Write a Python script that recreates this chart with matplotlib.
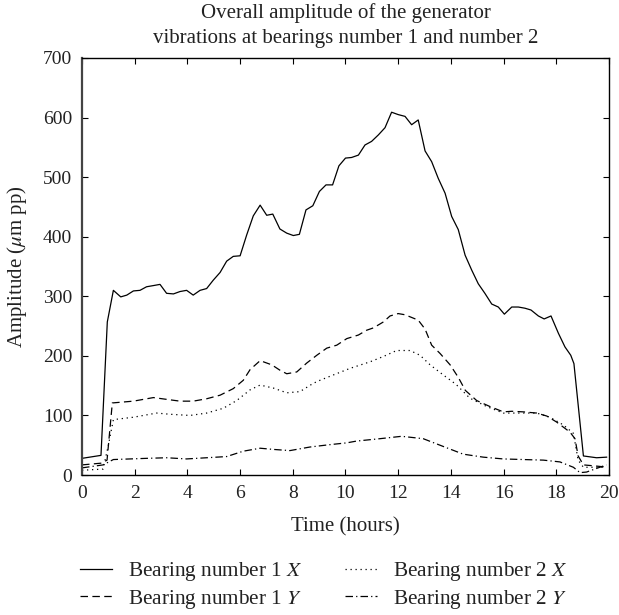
import numpy as np
import matplotlib
matplotlib.use('Agg')
import matplotlib.pyplot as plt

plt.rcParams['font.family'] = ['Liberation Serif', 'DejaVu Serif']
plt.rcParams['mathtext.fontset'] = 'stix'
plt.rcParams['font.size'] = 14

# bearing 1 X (solid)
x_1x = [0, 0.72, 0.96, 1.19, 1.47, 1.70, 1.95, 2.20, 2.45, 2.71, 2.96, 3.21, 3.47, 3.72, 3.97,
        4.22, 4.48, 4.73, 4.98, 5.24, 5.49, 5.74, 6.0, 6.25, 6.50, 6.76, 7.01, 7.24, 7.51, 7.77,
        8.02, 8.25, 8.50, 8.76, 9.01, 9.26, 9.51, 9.75, 10.0, 10.23, 10.49, 10.74, 10.99, 11.25,
        11.50, 11.75, 12.0, 12.26, 12.51, 12.76, 13.02, 13.27, 13.52, 13.78, 14.03, 14.28, 14.54,
        14.79, 15.04, 15.29, 15.55, 15.80, 16.03, 16.31, 16.56, 16.81, 17.04, 17.32, 17.54, 17.80,
        18.08, 18.33, 18.55, 18.67, 19.03, 19.53, 19.91]
y_1x = [28, 33, 257, 310, 299, 302, 309, 310, 316, 318, 320, 305, 304, 308, 310,
        302, 310, 313, 327, 340, 359, 367, 368, 403, 435, 453, 436, 438, 413, 406,
        402, 404, 445, 452, 476, 487, 487, 519, 532, 533, 537, 554, 560, 571,
        583, 609, 605, 602, 588, 596, 544, 526, 498, 473, 434, 412, 369,
        344, 321, 305, 287, 282, 270, 282, 282, 280, 277, 267, 262, 267,
        238, 215, 201, 187, 32, 29, 30]

# bearing 1 Y (dashed)
x_1y = [0, 0.75, 0.95, 1.15, 1.95, 2.71, 3.21, 3.72, 4.22, 4.73, 5.24, 5.74, 6.12, 6.38, 6.76,
        7.2, 7.51, 7.77, 8.15, 8.53, 8.91, 9.29, 9.67, 10.05, 10.49, 10.8, 11.06, 11.44, 11.69,
        12.0, 12.26, 12.76, 13.02, 13.27, 13.59, 13.97, 14.28, 14.55, 14.98, 15.48, 15.99, 16.31,
        16.75, 17.26, 17.64, 18.01, 18.52, 18.71, 18.83, 19.03, 19.53, 19.96]
y_1y = [17, 20, 25, 121, 124, 130, 127, 124, 124, 128, 134, 145, 159, 177, 192,
        185, 176, 170, 173, 188, 201, 213, 218, 229, 235, 243, 247, 257, 267,
        271, 269, 260, 245, 218, 204, 185, 164, 142, 125, 115, 106, 107,
        106, 104, 99, 89, 72, 61, 32, 17, 15, 13]

# bearing 2 X (dotted)
x_2x = [0, 0.8, 1.0, 1.19, 1.95, 2.83, 3.34, 4.1, 4.73, 5.36, 5.87, 6.38, 6.76, 7.26, 7.77,
        8.27, 8.78, 9.03, 9.54, 10.17, 10.93, 11.44, 11.94, 12.45, 12.83, 13.21, 13.71, 14.2,
        14.72, 15.36, 15.99, 16.75, 17.26, 17.76, 18.27, 18.65, 18.83, 19.03, 19.9]
y_2x = [8, 10, 50, 93, 97, 104, 102, 100, 104, 112, 125, 143, 151, 146, 138,
        140, 154, 159, 168, 179, 190, 199, 209, 209, 201, 185, 168, 152,
        129, 115, 104, 104, 104, 97, 84, 70, 25, 13, 13]

# bearing 2 Y (dash-dot)
x_2y = [0, 0.8, 1.19, 2.45, 3.21, 3.97, 4.73, 5.49, 6.12, 6.76, 7.26, 7.89, 8.65, 9.41, 10.05,
        10.42, 11.31, 12.13, 12.95, 13.59, 14.47, 15.23, 15.99, 16.75, 17.51, 18.14, 18.65,
        18.9, 19.15, 19.9]
y_2y = [12, 17, 26, 28, 29, 27, 29, 31, 40, 45, 43, 41, 47, 51, 54,
        57, 61, 65, 61, 50, 35, 30, 27, 26, 25, 22, 13,
        4, 5, 17]

fig = plt.figure(figsize=(6.19, 6.15), dpi=100)
ax = fig.add_axes([0.1325, 0.2276, 0.8513, 0.6781])

lw = 0.9
ax.plot(x_1x, y_1x, color='k', lw=lw, ls='-', label='Bearing number 1 $X$')
ax.plot(x_1y, y_1y, color='k', lw=lw, ls=(0, (6, 3.5)), label='Bearing number 1 $Y$')
ax.plot(x_2x, y_2x, color='k', lw=lw, ls=(0, (1, 3)), label='Bearing number 2 $X$')
ax.plot(x_2y, y_2y, color='k', lw=lw, ls=(0, (6, 2.5, 1, 2.5)), label='Bearing number 2 $Y$')

ax.set_xlim(0, 20)
ax.set_ylim(0, 700)
ax.set_xticks(np.arange(0, 21, 2))
ax.set_yticks(np.arange(0, 701, 100))
ax.tick_params(direction='in', top=True, right=True, length=4, width=0.8, colors='k',
               labelcolor='#222222', labelsize=14, pad=7)
for s in ax.spines.values():
    s.set_linewidth(1.0)
ax.spines['left'].set_color('#444444')
ax.spines['left'].set_linewidth(1.6)

ax.set_xlabel('Time (hours)', fontsize=15, labelpad=11, color='#222222')
ax.set_ylabel('Amplitude ($\\mu$m pp)', fontsize=15, labelpad=10, color='#222222')
ax.set_title('Overall amplitude of the generator\nvibrations at bearings number 1 and number 2',
             fontsize=15, pad=11, linespacing=1.4, color='#222222')

leg = fig.legend(loc='center', bbox_to_anchor=(0.5226, 0.048), ncol=2, frameon=False,
                 fontsize=15.3, handlelength=1.5, columnspacing=2.0, handletextpad=0.75,
                 labelspacing=0.2)
for t in leg.get_texts():
    t.set_color('#222222')

fig.savefig('out.png', dpi=100)
